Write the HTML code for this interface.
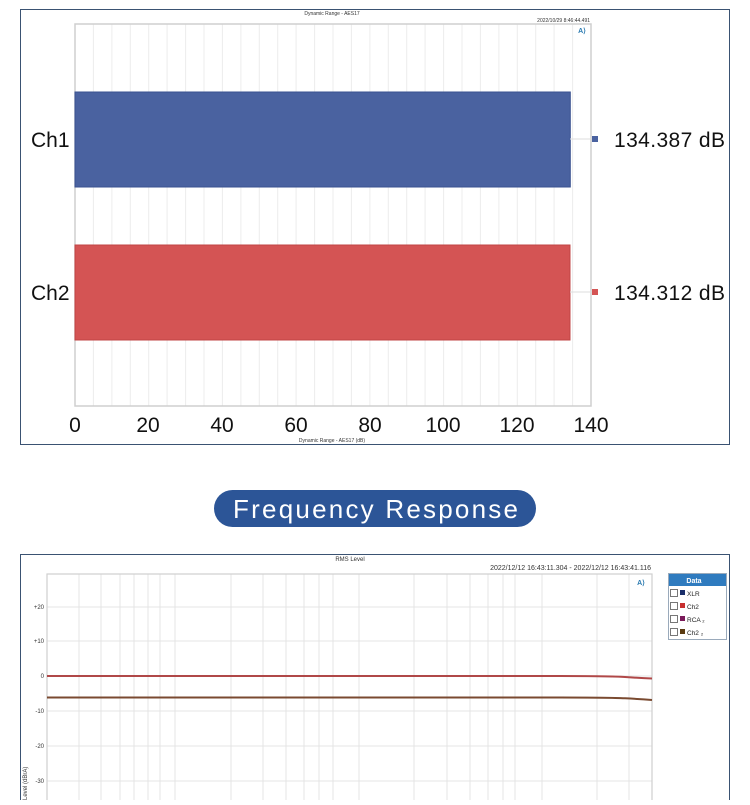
<!DOCTYPE html>
<html><head><meta charset="utf-8"><style>
body{margin:0;background:#fff;width:750px;height:800px;overflow:hidden;font-family:"Liberation Sans",sans-serif}
</style></head><body>
<svg width="750" height="800" xmlns="http://www.w3.org/2000/svg" font-family="Liberation Sans, sans-serif">
<rect x="20.5" y="9.5" width="709" height="435" fill="#fff" stroke="#3a5272" stroke-width="1"/>
<text x="332" y="15" font-size="5" text-anchor="middle" fill="#333">Dynamic Range - AES17</text>
<text x="590" y="22" font-size="5" text-anchor="end" fill="#333">2022/10/29 8:46:44.491</text>
<g stroke="#ececec" stroke-width="1">
<line x1="93.4" y1="24" x2="93.4" y2="406"/><line x1="111.9" y1="24" x2="111.9" y2="406"/><line x1="130.3" y1="24" x2="130.3" y2="406"/><line x1="148.7" y1="24" x2="148.7" y2="406"/><line x1="167.1" y1="24" x2="167.1" y2="406"/><line x1="185.6" y1="24" x2="185.6" y2="406"/><line x1="204" y1="24" x2="204" y2="406"/><line x1="222.4" y1="24" x2="222.4" y2="406"/><line x1="240.9" y1="24" x2="240.9" y2="406"/><line x1="259.3" y1="24" x2="259.3" y2="406"/><line x1="277.7" y1="24" x2="277.7" y2="406"/><line x1="296.1" y1="24" x2="296.1" y2="406"/><line x1="314.6" y1="24" x2="314.6" y2="406"/><line x1="333" y1="24" x2="333" y2="406"/><line x1="351.4" y1="24" x2="351.4" y2="406"/><line x1="369.9" y1="24" x2="369.9" y2="406"/><line x1="388.3" y1="24" x2="388.3" y2="406"/><line x1="406.7" y1="24" x2="406.7" y2="406"/><line x1="425.1" y1="24" x2="425.1" y2="406"/><line x1="443.6" y1="24" x2="443.6" y2="406"/><line x1="462" y1="24" x2="462" y2="406"/><line x1="480.4" y1="24" x2="480.4" y2="406"/><line x1="498.9" y1="24" x2="498.9" y2="406"/><line x1="517.3" y1="24" x2="517.3" y2="406"/><line x1="535.7" y1="24" x2="535.7" y2="406"/><line x1="554.1" y1="24" x2="554.1" y2="406"/><line x1="572.6" y1="24" x2="572.6" y2="406"/>
</g>
<rect x="75" y="24" width="516" height="382" fill="none" stroke="#cfcfcf" stroke-width="1.5"/>
<text x="582" y="33" font-size="7" font-weight="bold" fill="#2a7ab0" text-anchor="middle">A⟩</text>
<rect x="75" y="92" width="495.3" height="95" fill="#4a62a0" stroke="#3a5290"/>
<rect x="75" y="245" width="495" height="95" fill="#d45454" stroke="#c04444"/>
<line x1="570" y1="139" x2="591" y2="139" stroke="#ddd"/>
<line x1="570" y1="292" x2="591" y2="292" stroke="#ddd"/>
<rect x="592" y="136" width="6" height="6" fill="#4a62a0"/>
<rect x="592" y="289" width="6" height="6" fill="#d45454"/>
<g font-size="21" fill="#111">
<text x="614" y="147" textLength="111">134.387 dB</text>
<text x="614" y="300" textLength="111">134.312 dB</text>
<text x="31" y="147">Ch1</text>
<text x="31" y="300">Ch2</text>
</g>
<g font-size="21" fill="#111" text-anchor="middle">
<text x="75" y="432">0</text><text x="148" y="432">20</text><text x="222" y="432">40</text><text x="296" y="432">60</text><text x="370" y="432">80</text><text x="443" y="432">100</text><text x="517" y="432">120</text><text x="591" y="432">140</text>
</g>
<text x="332" y="442" font-size="5" text-anchor="middle" fill="#333">Dynamic Range - AES17 (dB)</text>
<rect x="214" y="490" width="322" height="37" rx="18.5" fill="#2c5597"/>
<text x="233" y="518" font-size="26" fill="#fff" textLength="285">Frequency Response</text>
<rect x="20.5" y="554.5" width="709" height="260" fill="#fff" stroke="#3a5272" stroke-width="1"/>
<text x="350" y="561" font-size="6" text-anchor="middle" fill="#333">RMS Level</text>
<text x="651" y="570" font-size="7" text-anchor="end" fill="#333">2022/12/12 16:43:11.304 -   2022/12/12 16:43:41.116</text>
<g stroke="#e4e4e4" stroke-width="1">
<line x1="79" y1="574" x2="79" y2="800"/><line x1="101" y1="574" x2="101" y2="800"/><line x1="120" y1="574" x2="120" y2="800"/><line x1="134" y1="574" x2="134" y2="800"/><line x1="148" y1="574" x2="148" y2="800"/><line x1="160" y1="574" x2="160" y2="800"/><line x1="175" y1="574" x2="175" y2="800"/><line x1="231" y1="574" x2="231" y2="800"/><line x1="263" y1="574" x2="263" y2="800"/><line x1="286" y1="574" x2="286" y2="800"/><line x1="304" y1="574" x2="304" y2="800"/><line x1="319" y1="574" x2="319" y2="800"/><line x1="333" y1="574" x2="333" y2="800"/><line x1="359" y1="574" x2="359" y2="800"/><line x1="414" y1="574" x2="414" y2="800"/><line x1="447" y1="574" x2="447" y2="800"/><line x1="470" y1="574" x2="470" y2="800"/><line x1="488" y1="574" x2="488" y2="800"/><line x1="503" y1="574" x2="503" y2="800"/><line x1="515" y1="574" x2="515" y2="800"/><line x1="542" y1="574" x2="542" y2="800"/><line x1="597" y1="574" x2="597" y2="800"/><line x1="629" y1="574" x2="629" y2="800"/>
<line x1="47" y1="607" x2="652" y2="607"/><line x1="47" y1="641" x2="652" y2="641"/><line x1="47" y1="676" x2="652" y2="676"/><line x1="47" y1="711" x2="652" y2="711"/><line x1="47" y1="746" x2="652" y2="746"/><line x1="47" y1="781" x2="652" y2="781"/>
</g>
<rect x="47" y="574" width="605" height="240" fill="none" stroke="#cfcfcf" stroke-width="1.2"/>
<text x="641" y="585" font-size="7" font-weight="bold" fill="#2a7ab0" text-anchor="middle">A⟩</text>
<g font-size="6" fill="#333" text-anchor="end">
<text x="44" y="609">+20</text><text x="44" y="643">+10</text><text x="44" y="678">0</text><text x="44" y="713">-10</text><text x="44" y="748">-20</text><text x="44" y="783">-30</text>
</g>
<text transform="translate(27,800) rotate(-90)" font-size="6" fill="#333">Level (dBrA)</text>
<path d="M47 676 L560 676 Q610 676 625 677 Q640 678 652 678.5" fill="none" stroke="#b04848" stroke-width="2"/>
<path d="M47 697.5 L560 697.5 Q610 697.5 625 698.3 Q640 699 652 700" fill="none" stroke="#7a4a30" stroke-width="2"/>
<rect x="668.5" y="573.5" width="58" height="66" fill="#fff" stroke="#9aaabb"/>
<rect x="669" y="574" width="57" height="12" fill="#2f7bbf"/>
<text x="694" y="583" font-size="7" font-weight="bold" fill="#fff" text-anchor="middle">Data</text>
<g font-size="6.5" fill="#222">
<rect x="670.5" y="589.5" width="7" height="7" fill="#fff" stroke="#777"/><rect x="680" y="590" width="5" height="5" fill="#1a2e6a"/><text x="687" y="596">XLR</text>
<rect x="670.5" y="602.5" width="7" height="7" fill="#fff" stroke="#777"/><rect x="680" y="603" width="5" height="5" fill="#c83030"/><text x="687" y="609">Ch2</text>
<rect x="670.5" y="615.5" width="7" height="7" fill="#fff" stroke="#777"/><rect x="680" y="616" width="5" height="5" fill="#7a1a5a"/><text x="687" y="622">RCA ₂</text>
<rect x="670.5" y="628.5" width="7" height="7" fill="#fff" stroke="#777"/><rect x="680" y="629" width="5" height="5" fill="#5a3a10"/><text x="687" y="635">Ch2 ₂</text>
</g>
</svg>
</body></html>
